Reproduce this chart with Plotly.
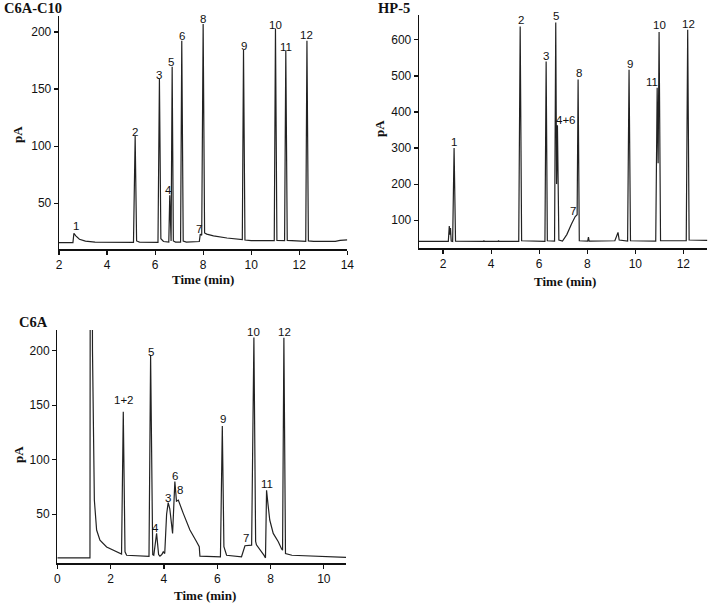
import plotly.graph_objects as go

# ---------------- data: C6A-C10 column ----------------
c10_time = [2.0, 2.58, 2.62, 2.70, 2.85, 3.1, 3.5, 5.10, 5.17, 5.23, 5.35, 6.12, 6.18, 6.24, 6.35,
            6.57, 6.61, 6.625, 6.64, 6.665, 6.71, 6.76, 6.85, 7.06, 7.11, 7.17, 7.3, 7.84, 7.88,
            7.94, 8.0, 8.06, 8.15, 8.43, 8.99, 9.54, 9.63, 9.68, 9.74, 10.0, 10.96, 11.01, 11.07,
            11.39, 11.44, 11.50, 11.85, 12.27, 12.32, 12.38, 12.6, 13.5, 13.7, 14.0]
c10_pA = [15.5, 15.5, 23.7, 21.5, 18.5, 16.8, 16.0, 15.8, 109, 17, 16, 15.8, 158.8, 19, 16.5,
          16, 57, 36, 54, 17, 169.6, 17, 16, 16, 192.4, 17, 16, 16.5, 23,
          22, 207, 24, 23, 21.4, 19.6, 18.4, 18.3, 184.2, 17.8, 17.3, 17.3, 203, 17.5,
          17.3, 183.4, 17.5, 17.0, 16.6, 192.4, 17, 16.6, 16.6, 17.5, 18]
c10_lbl = ["1", "2", "3", "4", "5", "6", "7", "8", "9", "10", "11", "12"]
c10_lbl_t = [2.69, 5.15, 6.18, 6.56, 6.67, 7.11, 7.81, 8.0, 9.69, 11.01, 11.46, 12.32]
c10_lbl_pA = [26.6, 109, 159, 58, 170, 193, 24, 208, 184.5, 203, 183, 194]

# ---------------- data: HP-5 column ----------------
hp5_time = [1.0, 2.22, 2.26, 2.285, 2.31, 2.34, 2.40, 2.46, 2.52, 3.68, 3.70, 3.72, 4.29, 4.31, 4.33,
            5.15, 5.21, 5.27, 6.24, 6.29, 6.34, 6.64, 6.69, 6.725, 6.76, 6.82, 6.97, 7.15, 7.35,
            7.50, 7.58, 7.62, 7.67, 8.02, 8.05, 8.08, 9.15, 9.28, 9.33, 9.68, 9.74, 9.80, 10.85,
            10.91, 10.95, 10.99, 11.05, 12.12, 12.18, 12.24, 13.0]
hp5_pA = [41, 41, 84, 60, 78, 42, 41, 300, 42, 41, 44, 41, 41, 44, 41,
          41, 637, 43, 41, 540, 43, 42, 648, 200, 363, 45, 42, 60, 90,
          110, 115, 490, 43, 42, 53, 42, 43, 66, 45, 42, 517, 43, 42,
          467, 258, 622, 43, 43, 628, 45, 44]
hp5_lbl = ["1", "2", "3", "5", "4+6", "7", "8", "9", "11", "10", "12"]
hp5_lbl_t = [2.46, 5.24, 6.29, 6.71, 7.12, 7.39, 7.64, 9.77, 10.68, 11.02, 12.21]
hp5_lbl_pA = [306, 645, 545, 654, 367, 115, 497, 522, 473, 629, 633]

# ---------------- data: C6A column ----------------
c6a_time = [0.0, 1.225, 1.24, 1.30, 1.32, 1.35, 1.39, 1.475, 1.6, 1.85, 2.225, 2.41, 2.475, 2.54,
            2.6, 3.0, 3.44, 3.50, 3.58, 3.62, 3.725, 3.80, 3.85, 3.92, 3.975, 4.03, 4.10, 4.16,
            4.22, 4.325, 4.41, 4.47, 4.54, 4.725, 4.975, 5.225, 5.325, 5.35, 6.0, 6.12, 6.19,
            6.25, 6.35, 6.91, 7.04, 7.29, 7.375, 7.44, 7.47, 7.6, 7.75, 7.81, 7.85, 7.90, 7.97,
            8.1, 8.29, 8.41, 8.45, 8.50, 8.56, 8.8, 10.35, 10.83]
c6a_pA = [10, 10, 400, 400, 200, 110, 63, 35.5, 26.3, 20, 15.5, 13.4, 144, 15.5,
          12.4, 11.6, 11.4, 196, 13, 12.4, 32.4, 13, 11.6, 13, 15.5, 14, 50, 60.6,
          55, 32.4, 79.9, 62, 63, 50.8, 35.5, 24.8, 20.3, 11.6, 11, 11, 131,
          20.3, 12.4, 11, 21.1, 21.7, 212, 25, 22, 18, 12.5, 10, 72, 60, 44.7,
          32.4, 24.8, 18.4, 17, 212, 14, 12.4, 11, 10.5]
c6a_lbl = ["1+2", "5", "4", "3", "6", "8", "9", "7", "10", "11", "12"]
c6a_lbl_t = [2.5, 3.5, 3.7, 4.16, 4.41, 4.61, 6.2, 7.06, 7.375, 7.875, 8.54]
c6a_lbl_pA = [151, 195, 33.9, 61.6, 81.5, 69, 133.7, 24.8, 213.5, 73.8, 213.5]

W, H = 710, 604


def px_x(p):
    return p / W


def px_y(p):
    return 1 - p / H


panels = [
    dict(t=c10_time, v=c10_pA, lbl=c10_lbl, lt=c10_lbl_t, lv=c10_lbl_pA,
         xd=[59, 347.3], yd=[249.3, 16], xr=[2, 14], yr=[9.7, 214], xdt=2, ydt=50, x0=2, y0=50,
         title="C6A-C10", tpos=(2, 8), ylab=(18, 135), xlab=(203, 280)),
    dict(t=hp5_time, v=hp5_pA, lbl=hp5_lbl, lt=hp5_lbl_t, lv=hp5_lbl_pA,
         xd=[419, 707.4], yd=[248.3, 15], xr=[1, 13], yr=[22, 669], xdt=2, ydt=100, x0=2, y0=100,
         title="HP-5", tpos=(376, 8), ylab=(380, 128), xlab=(565, 281.5)),
    dict(t=c6a_time, v=c6a_pA, lbl=c6a_lbl, lt=c6a_lbl_t, lv=c6a_lbl_pA,
         xd=[57.3, 346], yd=[563.3, 330], xr=[0, 10.83], yr=[5, 219], xdt=2, ydt=50, x0=0, y0=50,
         title="C6A", tpos=(17, 322), ylab=(18, 455), xlab=(205, 595)),
]

fig = go.Figure()
annotations = []
tickfont = dict(family="Liberation Sans, Arial, sans-serif", size=12, color="#111")
serif_bold = dict(family="Liberation Serif, Times New Roman, serif", size=13, color="#111")

for i, p in enumerate(panels, start=1):
    sx = "" if i == 1 else str(i)
    fig.add_trace(go.Scatter(x=p["t"], y=p["v"], mode="lines",
                             line=dict(color="#222", width=1.2),
                             xaxis="x" + sx, yaxis="y" + sx, showlegend=False,
                             hoverinfo="skip"))
    common = dict(showline=True, linecolor="#111", linewidth=1.3, ticks="outside",
                  ticklen=4, tickwidth=1.2, tickcolor="#111", showgrid=False, zeroline=False,
                  tickfont=tickfont, automargin=False)
    fig.update_layout(**{
        "xaxis" + sx: dict(domain=[px_x(p["xd"][0]), px_x(p["xd"][1])], range=p["xr"],
                           tick0=p["x0"], dtick=p["xdt"], anchor="y" + sx, **common),
        "yaxis" + sx: dict(domain=[px_y(p["yd"][0]), px_y(p["yd"][1])], range=p["yr"],
                           tick0=p["y0"], dtick=p["ydt"], anchor="x" + sx, **common),
    })
    for txt, lt, lv in zip(p["lbl"], p["lt"], p["lv"]):
        annotations.append(dict(x=lt, y=lv, xref="x" + sx, yref="y" + sx, text=txt,
                                showarrow=False, yanchor="bottom", xanchor="center",
                                yshift=-3, borderpad=0,
                                font=dict(family="Liberation Sans, Arial, sans-serif",
                                          size=11.5, color="#111")))
    # panel title
    annotations.append(dict(x=px_x(p["tpos"][0]), y=px_y(p["tpos"][1]), xref="paper", yref="paper",
                            text="<b>" + p["title"] + "</b>", showarrow=False,
                            xanchor="left", yanchor="middle",
                            font=dict(family="Liberation Serif, Times New Roman, serif",
                                      size=14.5, color="#111")))
    # axis titles
    annotations.append(dict(x=px_x(p["xlab"][0]), y=px_y(p["xlab"][1]), xref="paper", yref="paper",
                            text="<b>Time (min)</b>", showarrow=False,
                            xanchor="center", yanchor="middle", font=serif_bold))
    annotations.append(dict(x=px_x(p["ylab"][0]), y=px_y(p["ylab"][1]), xref="paper", yref="paper",
                            text="<b>pA</b>", showarrow=False, textangle=-90,
                            xanchor="center", yanchor="middle", font=serif_bold))

fig.update_layout(width=W, height=H, autosize=False,
                  margin=dict(l=0, r=0, t=0, b=0),
                  paper_bgcolor="white", plot_bgcolor="white",
                  annotations=annotations)

fig.write_html("out.html", config={"displayModeBar": False, "staticPlot": True},
               post_script="document.body.style.margin='0px';document.body.style.overflow='hidden';")
